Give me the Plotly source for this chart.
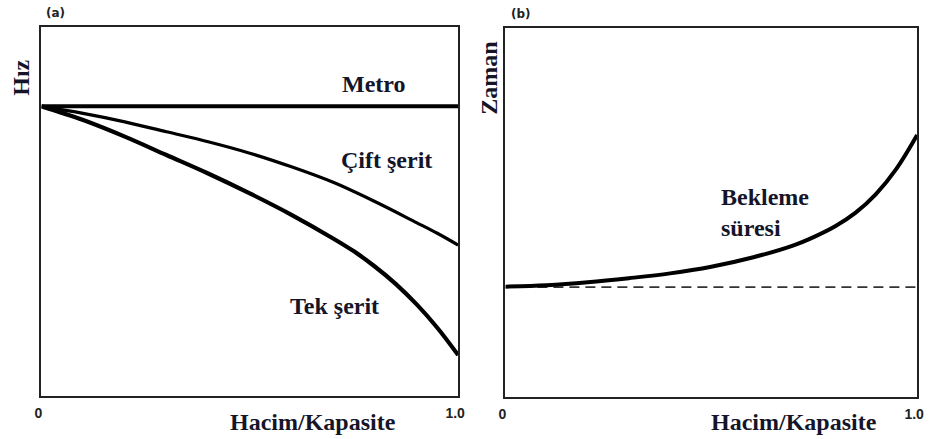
import plotly.graph_objects as go

# Data
x_metro = [0.0, 1.0]
metro = [0.785, 0.785]

x_cift = [0.0, 0.1, 0.2, 0.3, 0.4, 0.5, 0.6, 0.7, 0.8, 0.9, 0.95, 1.0]
cift_serit = [0.785, 0.766, 0.743, 0.716, 0.689, 0.658, 0.621, 0.579, 0.527, 0.470, 0.441, 0.409]

x_tek = [0.0, 0.1, 0.2, 0.3, 0.4, 0.5, 0.6, 0.7, 0.75, 0.8, 0.85, 0.9, 0.95, 1.0]
tek_serit = [0.785, 0.748, 0.703, 0.653, 0.603, 0.549, 0.491, 0.427, 0.392, 0.351, 0.304, 0.249, 0.185, 0.111]

x_bekleme = [0.0, 0.1, 0.2, 0.3, 0.4, 0.5, 0.6, 0.7, 0.75, 0.8, 0.85, 0.9, 0.95, 1.0]
bekleme = [0.299, 0.303, 0.311, 0.322, 0.335, 0.353, 0.378, 0.411, 0.434, 0.462, 0.499, 0.550, 0.619, 0.710]

x_serbest = [0.0, 1.0]
serbest = [0.298, 0.298]

tick_vals = [0, 1]
tick_text = ["0", "1.0"]

SERIF = "Liberation Serif"
TXT = "#15152a"

fig = go.Figure()
fig.add_trace(go.Scatter(x=x_metro, y=metro, mode="lines", line=dict(color="black", width=4),
                         xaxis="x", yaxis="y", showlegend=False))
fig.add_trace(go.Scatter(x=x_cift, y=cift_serit, mode="lines", line=dict(color="black", width=3.2, shape="spline"),
                         xaxis="x", yaxis="y", showlegend=False))
fig.add_trace(go.Scatter(x=x_tek, y=tek_serit, mode="lines", line=dict(color="black", width=4.2, shape="spline"),
                         xaxis="x", yaxis="y", showlegend=False))
fig.add_trace(go.Scatter(x=x_serbest, y=serbest, mode="lines", line=dict(color="#333", width=1.8, dash="10px,6px"),
                         xaxis="x2", yaxis="y2", showlegend=False))
fig.add_trace(go.Scatter(x=x_bekleme, y=bekleme, mode="lines", line=dict(color="black", width=4, shape="spline"),
                         xaxis="x2", yaxis="y2", showlegend=False))

ax_common = dict(range=[0, 1], showgrid=False, zeroline=False, showline=True, mirror=True,
                 linecolor="#222", linewidth=2, ticks="")
xax = dict(ax_common, tickvals=tick_vals, ticktext=tick_text, ticklabelshift=-3, ticklabelstandoff=3,
           tickfont=dict(family="Liberation Sans", size=14, color="#222", weight="bold"))
yax = dict(ax_common, showticklabels=False)

fig.update_layout(
    width=932, height=439,
    margin=dict(l=0, r=0, t=0, b=0),
    paper_bgcolor="white", plot_bgcolor="white",
    xaxis=dict(xax, domain=[35 / 932, 458 / 932], anchor="y"),
    yaxis=dict(yax, domain=[1 - 396 / 439, 1 - 27 / 439], anchor="x"),
    xaxis2=dict(xax, domain=[506 / 932, 924 / 932], anchor="y2"),
    yaxis2=dict(yax, domain=[1 - 397 / 439, 1 - 28 / 439], anchor="x2"),
)

lbl = dict(family=SERIF, size=24, color=TXT)
ann = [
    dict(text="<b>Metro</b>", x=0.797, y=0.846, xref="x", yref="y"),
    dict(text="<b>Çift şerit</b>", x=0.827, y=0.640, xref="x", yref="y"),
    dict(text="<b>Tek şerit</b>", x=0.704, y=0.244, xref="x", yref="y"),
    dict(text="<b>Bekleme<br>süresi</b>", x=0.519, y=0.50, xref="x2", yref="y2", xanchor="left", align="left"),
    dict(text="<b>Hacim/Kapasite</b>", x=311 / 932, y=1 - 422 / 439, xref="paper", yref="paper"),
    dict(text="<b>Hacim/Kapasite</b>", x=799 / 932, y=1 - 422 / 439, xref="paper", yref="paper"),
    dict(text="<b>Hız</b>", x=14 / 932, y=1 - 78 / 439, xref="paper", yref="paper", textangle=-90),
    dict(text="<b>Zaman</b>", x=489 / 932, y=1 - 78 / 439, xref="paper", yref="paper", textangle=-90),
]
for a in ann:
    a.setdefault("xanchor", "center")
    fig.add_annotation(showarrow=False, yanchor="middle", font=lbl, **a)

for txt, px, py in [("(a)", 49, 13), ("(b)", 522, 14)]:
    fig.add_annotation(text="<b>" + txt + "</b>", x=px / 932, y=1 - py / 439, xref="paper", yref="paper",
                       showarrow=False, xanchor="center", yanchor="middle",
                       font=dict(family="DejaVu Sans", size=12, color="#222"))

fig.write_html("out.html", config={"displayModeBar": False},
               post_script="document.body.style.margin='0px';")
